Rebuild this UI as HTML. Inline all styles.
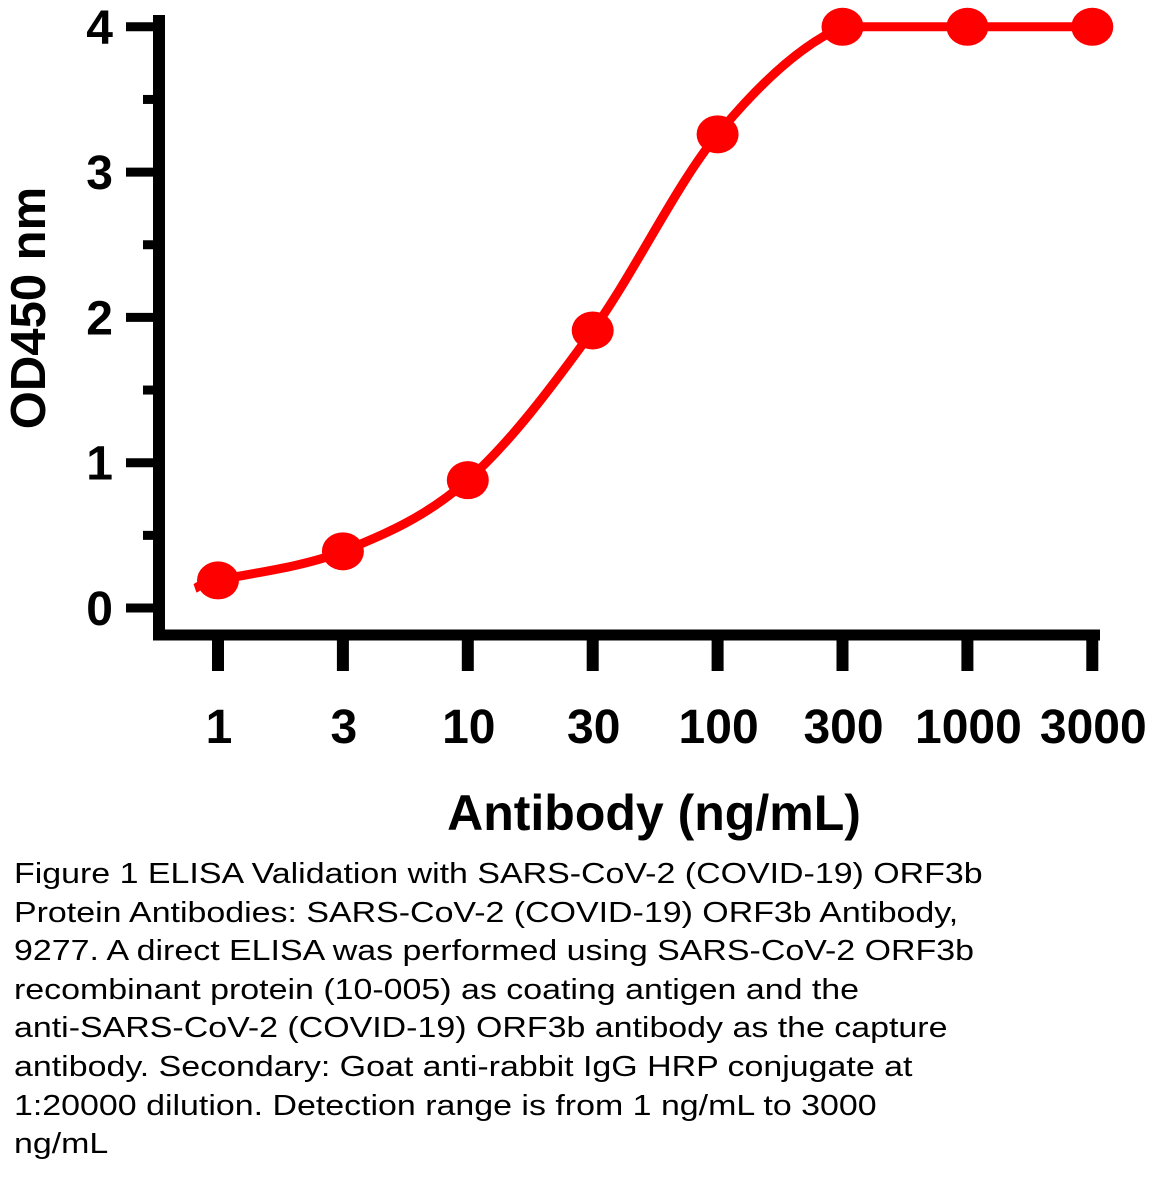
<!DOCTYPE html>
<html><head><meta charset="utf-8"><style>
body{margin:0;background:#fff;width:1151px;height:1179px;overflow:hidden;font-family:"Liberation Sans",sans-serif}
#cap{position:absolute;left:14px;top:855px;font-size:29px;line-height:38.6px;color:#000;font-family:"Liberation Sans",sans-serif;white-space:nowrap;transform:scaleX(1.17);transform-origin:0 0}
</style></head><body>
<svg id="chart" width="1151" height="850" style="position:absolute;left:0;top:0">
<g id="axes"></g><g id="series"></g>
<text x="654" y="830" text-anchor="middle" font-family="Liberation Sans" font-weight="bold" font-size="50">Antibody (ng/mL)</text>
<text transform="translate(45,308) rotate(-90)" text-anchor="middle" font-family="Liberation Sans" font-weight="bold" font-size="49">OD450 nm</text>
</svg>
<div id="cap">Figure 1 ELISA Validation with SARS-CoV-2 (COVID-19) ORF3b<br>Protein Antibodies: SARS-CoV-2 (COVID-19) ORF3b Antibody,<br>9277. A direct ELISA was performed using SARS-CoV-2 ORF3b<br>recombinant protein (10-005) as coating antigen and the<br>anti-SARS-CoV-2 (COVID-19) ORF3b antibody as the capture<br>antibody. Secondary: Goat anti-rabbit IgG HRP conjugate at<br>1:20000 dilution. Detection range is from 1 ng/mL to 3000<br>ng/mL</div>
<script>
const categories=["1","3","10","30","100","300","1000","3000"];
const odValues=[0.19,0.39,0.88,1.91,3.26,4.0,4.0,4.0];
const yTicks=[0,1,2,3,4];
const NS="http://www.w3.org/2000/svg";
const x=i=>218+i*124.9;
const y=v=>608-v*145.3;
const ax=document.getElementById('axes'),se=document.getElementById('series');
function mk(p,t,a){const e=document.createElementNS(NS,t);for(const k in a)e.setAttribute(k,a[k]);p.appendChild(e);return e;}
let e=mk(ax,'line',{x1:159,y1:15,x2:159,y2:640,stroke:'#000','stroke-width':12});

e=mk(ax,'line',{x1:153,y1:635,x2:1100,y2:635,stroke:'#000','stroke-width':11});

yTicks.forEach(v=>{
 let t=mk(ax,'line',{x1:126,x2:159,y1:y(v),y2:y(v),stroke:'#000','stroke-width':9});
 
 if(v<4){let m=mk(ax,'line',{x1:143,x2:159,y1:y(v+0.5),y2:y(v+0.5),stroke:'#000','stroke-width':9});
 }
 let l=mk(ax,'text',{x:113,y:y(v)+17,'text-anchor':'end','font-weight':'bold','font-size':48,'font-family':'Liberation Sans'});
 l.textContent=v;
});
categories.forEach((c,i)=>{
 let t=mk(ax,'line',{x1:x(i),x2:x(i),y1:635,y2:671,stroke:'#000','stroke-width':12});
 
 let l=mk(ax,'text',{x:x(i)+1,y:743,'text-anchor':'middle','font-weight':'bold','font-size':48,'font-family':'Liberation Sans'});
 l.textContent=c;
});
const pts=odValues.map((v,i)=>[x(i),y(v)]);
pts.unshift([x(0)-23,y(odValues[0])+8]);
let d='M'+pts[0][0]+','+pts[0][1];
for(let i=0;i<pts.length-1;i++){
 const p0=pts[Math.max(0,i-1)],p1=pts[i],p2=pts[i+1],p3=pts[Math.min(pts.length-1,i+2)];
 const c1=[p1[0]+(p2[0]-p0[0])/6,Math.max(p1[1]+(p2[1]-p0[1])/6,y(4))];
 const c2=[p2[0]-(p3[0]-p1[0])/6,Math.max(p2[1]-(p3[1]-p1[1])/6,y(4))];
 d+=` C${c1[0]},${c1[1]} ${c2[0]},${c2[1]} ${p2[0]},${p2[1]}`;
}
e=mk(se,'path',{d:d,fill:'none',stroke:'#ff0000','stroke-width':9});

odValues.forEach((v,i)=>{
 let c=mk(se,'ellipse',{cx:x(i),cy:y(v),rx:21,ry:19,fill:'#ff0000'});
 
});
</script>
</body></html>
